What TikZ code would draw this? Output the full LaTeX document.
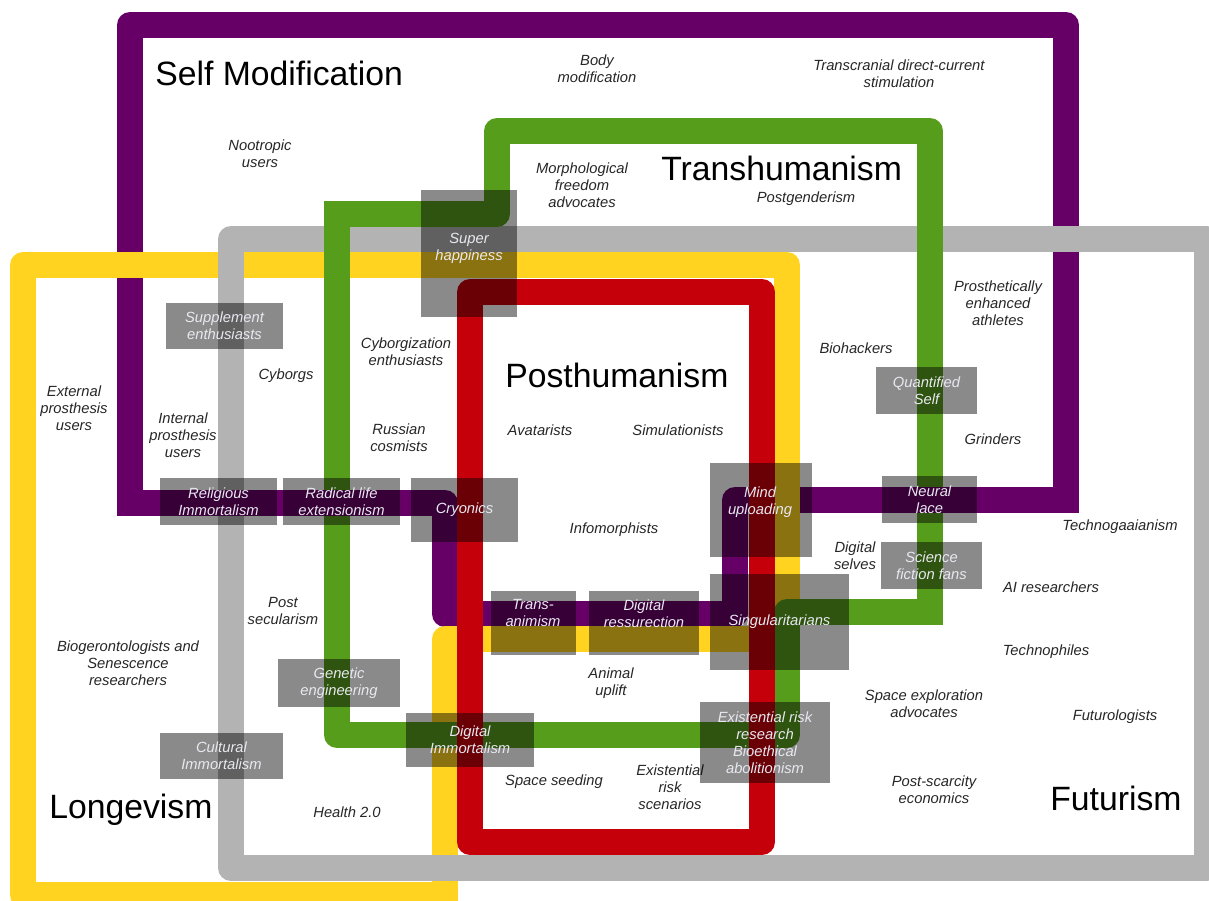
\documentclass[tikz,border=0pt]{standalone}
\usepackage{fontspec}
\setmainfont{Liberation Sans}
\usepackage{tikz}

\definecolor{selfmod}{HTML}{660066}
\definecolor{longev}{HTML}{FFD320}
\definecolor{futur}{HTML}{B3B3B3}
\definecolor{transh}{HTML}{579D1C}
\definecolor{posth}{HTML}{C5000B}
\definecolor{boxtext}{HTML}{E8E8F0}

\begin{document}
\begin{tikzpicture}[x=0.02cm,y=-0.02cm,
    band/.style={line width=0.52cm,line join=round},
    box_size/.style 2 args={minimum width=#1*0.02cm,minimum height=#2*0.02cm},
    dark_box/.style={rectangle,fill=black,fill opacity=0.46,text opacity=1,inner sep=0pt,
        text=boxtext,font=\fontsize{8.4}{9.6}\selectfont\itshape,align=center},
    box_text/.style={inner sep=0pt,text=boxtext,font=\fontsize{8.4}{9.6}\selectfont\itshape,align=center},
    plain_label/.style={inner sep=0pt,text=black!85,font=\fontsize{8.4}{9.6}\selectfont\itshape,align=center},
    title_label/.style={inner sep=0pt,anchor=base west,font=\fontsize{19.2}{22}\selectfont}]

    \useasboundingbox (0,0) rectangle (1209,900);
    \clip (0,0) rectangle (1209,900);

    % the five bands (square corners patched on)
    \draw[band,selfmod] (130,25) -- (1066,25) -- (1066,500) -- (735,500) -- (735,614)
        -- (445,614) -- (445,503) -- (130,503) -- cycle;
    \fill[selfmod] (117,490) rectangle (143,516);
    \fill[selfmod] (1053,487) rectangle (1079,513);
    \draw[band,longev] (23,265) -- (787,265) -- (787,639) -- (445,639) -- (445,895)
        -- (23,895) -- cycle;
    \fill[longev] (432,882) rectangle (458,908);
    \draw[band,futur] (231,239) rectangle (1207,868);
    \draw[band,transh] (497,131) -- (930,131) -- (930,612) -- (787,612) -- (787,735)
        -- (337,735) -- (337,214) -- (497,214) -- cycle;
    \fill[transh] (324,201) rectangle (350,227);
    \fill[transh] (917,599) rectangle (943,625);
    \begin{scope}
        \clip (150,480) rectangle (420,526);
        \draw[band,selfmod] (130,503) -- (445,503);
    \end{scope}
    \begin{scope}
        \clip (880,480) rectangle (980,520);
        \draw[band,selfmod] (735,500) -- (1066,500);
    \end{scope}
    \draw[band,posth] (470,292) rectangle (762,842);

    \node[title_label] (selfmod_t) at (155,85) {Self Modification};
    \node[title_label] (transh_t) at (661,180) {Transhumanism};
    \node[title_label] (posth_t) at (505,387) {Posthumanism};
    \node[title_label] (longev_t) at (49,818) {Longevism};
    \node[title_label] (futur_t) at (1050,810) {Futurism};

    \node[plain_label] (body) at (597,69) {Body\\modification};
    \node[plain_label] (tdcs) at (899,74) {Transcranial direct-current\\stimulation};
    \node[plain_label] (nootropic) at (260,154) {Nootropic\\users};
    \node[plain_label] (morpho) at (582,185) {Morphological\\freedom\\advocates};
    \node[plain_label] (postgender) at (806,199) {Postgenderism};
    \node[plain_label] (athletes) at (998,303) {Prosthetically\\enhanced\\athletes};
    \node[plain_label] (biohackers) at (856,348) {Biohackers};
    \node[plain_label] (grinders) at (993,439) {Grinders};
    \node[plain_label] (cyborgization) at (406,352) {Cyborgization\\enthusiasts};
    \node[plain_label] (cyborgs) at (286,376) {Cyborgs};
    \node[plain_label] (external) at (74,408) {External\\prosthesis\\users};
    \node[plain_label] (internal) at (183,435) {Internal\\prosthesis\\users};
    \node[plain_label] (cosmists) at (399,438) {Russian\\cosmists};
    \node[plain_label] (avatarists) at (540,430) {Avatarists};
    \node[plain_label] (simulationists) at (678,430) {Simulationists};
    \node[plain_label] (infomorphists) at (614,530) {Infomorphists};
    \node[plain_label] (technogaia) at (1120,527) {Technogaaianism};
    \node[plain_label] (selves) at (855,556) {Digital\\selves};
    \node[plain_label] (ai) at (1051,587) {AI researchers};
    \node[plain_label] (postsecular) at (283,611) {Post\\secularism};
    \node[plain_label] (biogeron) at (128,663) {Biogerontologists and\\Senescence\\researchers};
    \node[plain_label] (technophiles) at (1046,652) {Technophiles};
    \node[plain_label] (uplift) at (611,683) {Animal\\uplift};
    \node[plain_label] (spaceexpl) at (924,704) {Space exploration\\advocates};
    \node[plain_label] (futurologists) at (1115,717) {Futurologists};
    \node[plain_label] (seeding) at (554,782) {Space seeding};
    \node[plain_label] (xrisk) at (670,787) {Existential\\risk\\scenarios};
    \node[plain_label] (postscarcity) at (934,790) {Post-scarcity\\economics};
    \node[plain_label] (health) at (347,812) {Health 2.0};

    % shaded overlaps
    \node[dark_box,box_size={96}{127}] (super) at (469,253.5) {};
    \node[box_text] (super_t) at (469,248) {Super\\happiness};
    \node[dark_box,box_size={117}{46}] (supplement) at (224.5,326) {Supplement\\enthusiasts};
    \node[dark_box,box_size={101}{47}] (quantified) at (926.5,390.5) {Quantified\\Self};
    \node[dark_box,box_size={117}{47}] (religious) at (218.5,501.5) {Religious\\Immortalism};
    \node[dark_box,box_size={117}{47}] (radical) at (341.5,501.5) {Radical life\\extensionism};
    \node[dark_box,box_size={107}{64}] (cryonics) at (464.5,510) {Cryonics};
    \node[dark_box,box_size={102}{94}] (mind) at (761,510) {};
    \node[box_text] (mind_t) at (760,502) {Mind\\uploading};
    \node[dark_box,box_size={95}{47}] (neural) at (929.5,499.5) {Neural\\lace};
    \node[dark_box,box_size={101}{47}] (scifi) at (931.5,565.5) {Science\\fiction fans};
    \node[dark_box,box_size={139}{96}] (singular) at (779.5,622) {Singularitarians};
    \node[dark_box,box_size={85}{64}] (transanim) at (533.5,623) {};
    \node[box_text] (transanim_t) at (533,613) {Trans-\\animism};
    \node[dark_box,box_size={110}{64}] (digres) at (644,623) {};
    \node[box_text] (digres_t) at (644,614) {Digital\\ressurection};
    \node[dark_box,box_size={122}{48}] (genetic) at (339,683) {Genetic\\engineering};
    \node[dark_box,box_size={128}{54}] (digimm) at (470,740) {Digital\\Immortalism};
    \node[dark_box,box_size={123}{46}] (cultural) at (221.5,756) {Cultural\\Immortalism};
    \node[dark_box,box_size={130}{81}] (exrisk) at (765,742.5) {Existential risk\\research\\Bioethical\\abolitionism};
\end{tikzpicture}
\end{document}
